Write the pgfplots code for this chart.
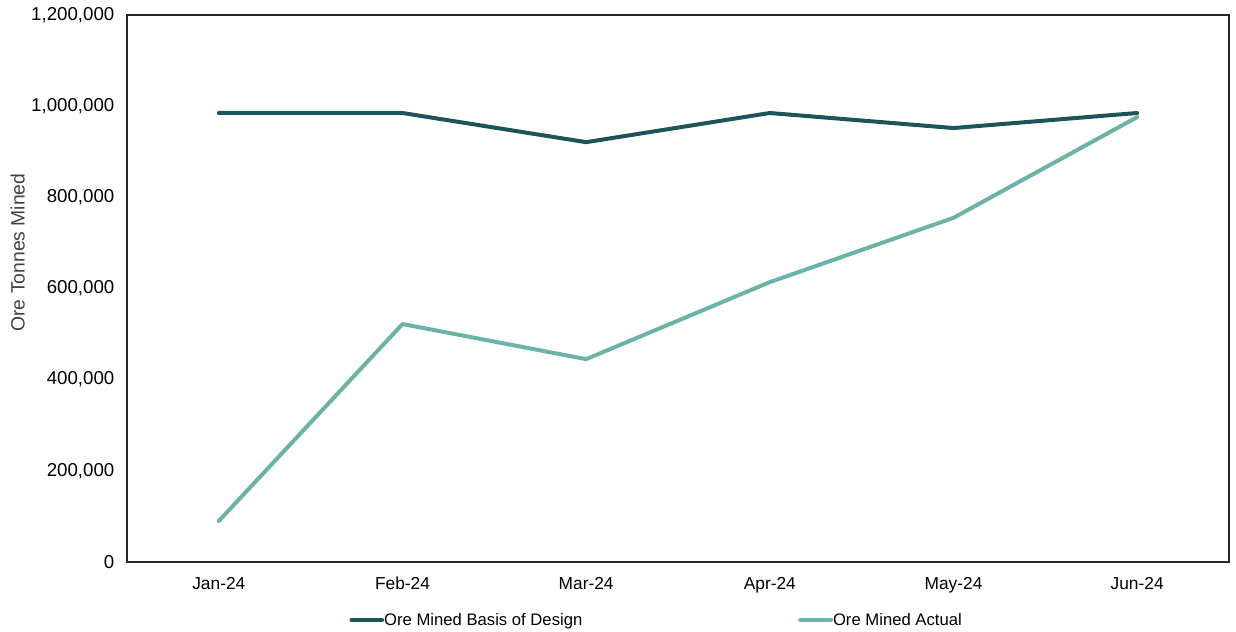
\documentclass[border=0pt]{standalone}
\usepackage{fontspec}
\setmainfont{Liberation Sans}
\usepackage{pgfplots}
\pgfplotsset{compat=1.18}
\definecolor{darkteal}{HTML}{1D5459}
\definecolor{lightteal}{HTML}{6BB3A6}
\definecolor{labgrey}{HTML}{404040}
\begin{document}
\begin{tikzpicture}
\begin{axis}[
  scale only axis,
  width=826.5pt, height=410.25pt,
  xmin=-0.5, xmax=5.5,
  ymin=0, ymax=1200000,
  xtick={0,1,2,3,4,5},
  xticklabels={Jan-24,Feb-24,Mar-24,Apr-24,May-24,Jun-24},
  ytick={0,200000,400000,600000,800000,1000000,1200000},
  scaled y ticks=false,
  /pgf/number format/.cd, fixed, 1000 sep={,}, assume math mode=true,
  /pgfplots/.cd,
  yticklabel style={font=\fontsize{14}{16}\selectfont, xshift=-6pt},
  xticklabel style={font=\fontsize{13}{15}\selectfont, yshift=-8pt},
  major tick length=0pt,
  axis line style={black!85, line width=0.9pt},
  ylabel={Ore Tonnes Mined},
  ylabel style={font=\fontsize{14.5}{16}\selectfont, text=labgrey, at={(rel axis cs:0,0.5)}, anchor=center, yshift=82pt, xshift=27pt},
  legend style={at={(rel axis cs:0.198,-0.083)}, anchor=north west, draw=none, fill=none,
    font=\fontsize{12.5}{15}\selectfont, legend columns=2,
    /tikz/every even column/.append style={column sep=160pt},
    /tikz/every odd column/.append style={column sep=-2pt}},
  legend image code/.code={\draw[#1, line width=3pt] (0pt,0pt) -- (23pt,0pt);},
  clip=false,
]
\addplot[darkteal, line width=3pt, line join=round, line cap=round] coordinates {
 (0,985000) (1,985000) (2,921000) (3,985000) (4,952000) (5,985000)};
\addlegendentry{Ore Mined Basis of Design}
\addplot[lightteal, line width=3pt, line join=round, line cap=round] coordinates {
 (0,90000) (1,522000) (2,445000) (3,614000) (4,755000) (5,976000)};
\addlegendentry{Ore Mined Actual}
\end{axis}
\pgfresetboundingbox
\path[use as bounding box] ([xshift=-95.25pt,yshift=-51.75pt]current axis.south west) rectangle ([xshift=5.25pt,yshift=11.25pt]current axis.north east);
\end{tikzpicture}
\end{document}
